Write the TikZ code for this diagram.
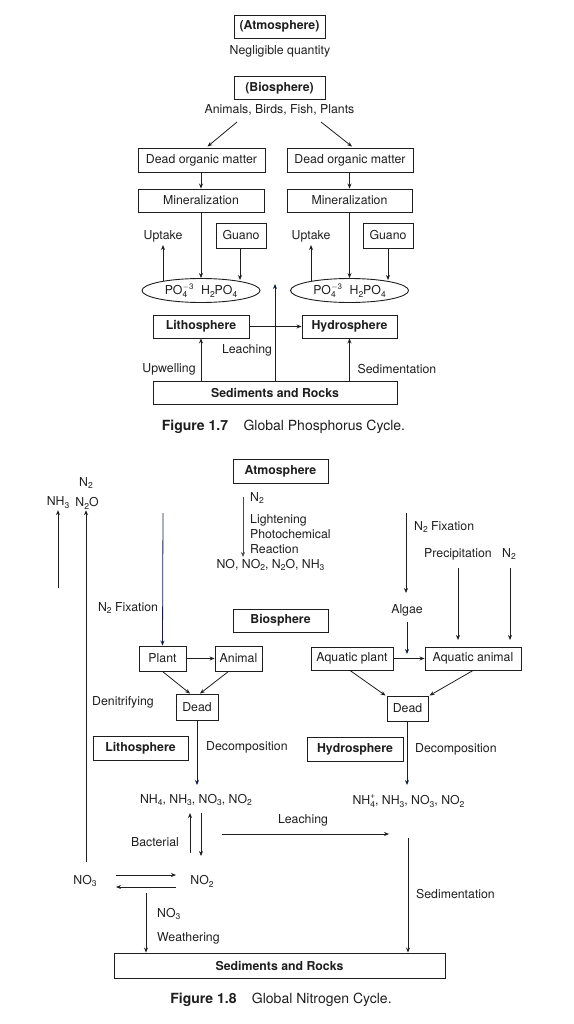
\documentclass[tikz,border=0pt]{standalone}
\usepackage{fontspec}
\setmainfont{TeX Gyre Heros}
\usetikzlibrary{arrows.meta,shapes.geometric,calc}
\newcommand\dnx[1]{\raisebox{-0.45ex}{\fontsize{8.5}{9}\selectfont #1}}
\newcommand\upx[1]{\raisebox{0.85ex}{\fontsize{8}{9}\selectfont #1}}
\newcommand\dnup[2]{\rlap{\dnx{#1}}\upx{#2}}
\definecolor{inkc}{RGB}{30,30,30}
\definecolor{navyc}{RGB}{20,25,80}
\begin{document}
\begin{tikzpicture}[x=1pt,y=-1pt,
  every node/.style={font=\fontsize{12.3}{14}\selectfont, text=inkc, inner sep=1pt},
  box/.style={draw=inkc, line width=0.9pt, inner sep=0pt, minimum height=23},
  bbox/.style={box, font=\fontsize{12.3}{14}\selectfont\bfseries},
  arr/.style={-{Stealth[length=5pt,width=4pt]}, line width=0.8pt, draw=inkc},
  blu/.style={draw=navyc},
  lbl/.style={anchor=west},
  capt/.style={font=\fontsize{14}{16}\selectfont}
]
\path[use as bounding box] (0,0) rectangle (573,1024);

%% ---------------- Phosphorus cycle ----------------
\node[bbox, minimum width=91] (patm) at (279.5,26.5) {(Atmosphere)};
\node (pneg) at (280,51) {Negligible quantity};
\node[bbox, minimum width=91] (pbio) at (279.5,88) {(Biosphere)};
\node (panim) at (279.5,110) {Animals, Birds, Fish, Plants};
\coordinate (pal) at (237,122);
\coordinate (par) at (321,122);

\node[box, minimum width=127, minimum height=24] (pdomL) at (201.5,160) {Dead organic matter};
\node[box, minimum width=126, minimum height=24] (pdomR) at (350,160) {Dead organic matter};
\draw[arr] (pal) -- ($(pdomL.north)+(6,-1)$);
\draw[arr] (par) -- ($(pdomR.north)+(2,-1)$);

\node[box, minimum width=126] (pminL) at (201,200.5) {Mineralization};
\node[box, minimum width=125] (pminR) at (349.5,200.5) {Mineralization};
\draw[arr] (pdomL.south -| pminL) -- (pminL.north);
\draw[arr] (pdomR.south -| pminR) -- (pminR.north);

\node (pupL) at (163,236) {Uptake};
\node (pupR) at (311,236) {Uptake};
\node[box, minimum width=50, minimum height=25] (pgL) at (241,235.5) {Guano};
\node[box, minimum width=50, minimum height=25] (pgR) at (388,235.5) {Guano};

\node[draw=inkc, line width=0.9pt, ellipse, minimum width=118, minimum height=24, inner sep=0pt] (pelL) at (201,290.5) {PO\dnup{4}{$-$3}\,\, H\dnx{2}PO\dnx{4}};
\node[draw=inkc, line width=0.9pt, ellipse, minimum width=118, minimum height=24, inner sep=0pt] (pelR) at (349.5,290.5) {PO\dnup{4}{$-$3}\,\, H\dnx{2}PO\dnx{4}};

\coordinate (puLb) at (163,281);
\coordinate (puRb) at (311,281);
\coordinate (pgLb) at (240,280);
\coordinate (pgRb) at (388,280);
\draw[arr] (puLb) -- ($(pupL.south)+(0,2)$);
\draw[arr] (puRb) -- ($(pupR.south)+(0,2)$);
\draw[arr] (pminL.south) -- (pelL.north);
\draw[arr] (pminR.south) -- (pelR.north);
\draw[arr] (pgL.south -| pgLb) -- (pgLb);
\draw[arr] (pgR.south) -- (pgRb);

\node[bbox, minimum width=96] (plith) at (201,326.5) {Lithosphere};
\node[bbox, minimum width=95] (phyd) at (349.5,326.5) {Hydrosphere};
\draw[arr] (plith.east) -- (phyd.west);

\node[bbox, minimum width=244] (psed) at (275,392.5) {Sediments and Rocks};
\coordinate (pblue) at (275,284);
\draw[arr, blu] (psed.north -| pblue) -- (pblue);
\draw[arr] (psed.north -| plith) -- (plith.south);
\draw[arr] (psed.north -| phyd) -- (phyd.south);
\node (pleach) at (247,350) {Leaching};
\node (pupw) at (169,369) {Upwelling};
\node (psedl) at (397,369) {Sedimentation};
\node[capt] (pcap) at (283.5,427) {\textbf{Figure 1.7}\hspace{1.1em}Global Phosphorus Cycle.};

%% ---------------- Nitrogen cycle ----------------
\node (nn2t) at (86,483) {N\dnx{2}};
\node (nnh3) at (58,503) {NH\dnx{3}};
\node (nn2o) at (87,503) {N\dnx{2}O};
\coordinate (nnh3b) at (58,588);
\coordinate (nn2ob) at (86,862);
\draw[arr] (nnh3b) -- (nnh3.south -| nnh3b);
\draw[arr] (nn2ob) -- (nn2o.south -| nn2ob);

\node[bbox, minimum width=95, minimum height=24] (natm) at (280.5,471) {Atmosphere};
\coordinate (nlt) at (243,497);
\coordinate (nlb) at (243,557);
\draw[arr, line width=0.6pt, draw=inkc!80] (nlt) -- (nlb);
\node[lbl] (nln2) at (249,498) {N\dnx{2}};
\node[lbl] (nl1) at (249,520) {Lightening};
\node[lbl] (nl2) at (249,534) {Photochemical};
\node[lbl] (nl3) at (249,549) {Reaction};
\node (nprod) at (270.5,565) {NO, NO\dnx{2}, N\dnx{2}O, NH\dnx{3}};

\node[bbox, minimum width=95] (nbio) at (280.5,620.5) {Biosphere};

\node[box, minimum width=47, minimum height=25] (nplant) at (162.5,658.5) {Plant};
\node[box, minimum width=47, minimum height=25] (nanim) at (238.5,658.5) {Animal};
\draw[arr] (nplant.east) -- (nanim.west);
\coordinate (nfixt) at (163,513);
\draw[arr, blu] (nfixt) -- (nplant.north);
\node (nfixl) at (128,608) {N\dnx{2} Fixation};

\node[box, minimum width=42, minimum height=26] (ndeadL) at (197,707) {Dead};
\draw[arr] (nplant.south) -- ($(ndeadL.north)+(-7,0)$);
\draw[arr] ($(nanim.south)+(-10,0)$) -- ($(ndeadL.north)+(3,0)$);
\node (ndenit) at (123,702) {Denitrifying};
\node[bbox, minimum width=95, minimum height=24] (nlith) at (140.5,748) {Lithosphere};
\node (nprodL) at (196,800) {NH\dnx{4}, NH\dnx{3}, NO\dnx{3}, NO\dnx{2}};
\coordinate (ndecL) at (197,785);
\draw[arr, blu] (ndeadL.south) -- (ndecL);
\node[lbl] (ndecLl) at (205,747) {Decomposition};

% right branch
\coordinate (nfrt) at (406,513);
\coordinate (nfrb) at (406,593);
\draw[arr] (nfrt) -- (nfrb);
\node[lbl] (nfrl) at (413,527) {N\dnx{2} Fixation};
\node (nprec) at (458,554) {Precipitation};
\node (nn2r) at (509,554) {N\dnx{2}};
\coordinate (nprecb) at (458,640);
\coordinate (nn2rb) at (510,640);
\draw[arr] (nprec.south |- 0,568) -- (nprecb);
\draw[arr] (nn2rb |- 0,568) -- (nn2rb);
\node (nalgae) at (407,610) {Algae};
\coordinate (nalgb) at (407,654);
\draw[arr, blu] ($(nalgae.south)+(0,5)$) -- (nalgb);

\node[box, minimum width=82] (naqp) at (352,658.5) {Aquatic plant};
\node[box, minimum width=96] (naqa) at (473,658.5) {Aquatic animal};
\draw[arr] (naqp.east) -- (naqa.west);

\node[box, minimum width=41, minimum height=25] (ndeadR) at (407.5,708.5) {Dead};
\draw[arr] ($(naqp.south)+(-2,0)$) -- ($(ndeadR.north)+(-22,0)$);
\draw[arr] (naqa.south) -- ($(ndeadR.north)+(22,0)$);
\node[bbox, minimum width=96, minimum height=24] (nhyd) at (355,749) {Hydrosphere};
\coordinate (ndecR) at (407,785);
\draw[arr, blu] (ndeadR.south -| ndecR) -- (ndecR);
\node[lbl] (ndecRl) at (414,749) {Decomposition};
\node (nprodR) at (408.5,801) {NH\rlap{\upx{+}}\dnx{4}, NH\dnx{3}, NO\dnx{3}, NO\dnx{2}};

% leaching and sedimentation
\node (nleach) at (303,820) {Leaching};
\coordinate (nlea) at (222,834);
\coordinate (nleb) at (389,834);
\draw[arr] (nlea) -- (nleb);
\node[bbox, minimum width=331, minimum height=25] (nsed) at (279.5,965.5) {Sediments and Rocks};
\coordinate (nsedt) at (408,838);
\draw[arr] (nsedt) -- (nsed.north -| nsedt);
\node[lbl] (nsedl) at (415,894) {Sedimentation};

% bacterial
\node (nbact) at (155,842) {Bacterial};
\coordinate (nbu1) at (190,853);
\coordinate (nbu2) at (190,813);
\coordinate (nbd1) at (201,813);
\coordinate (nbd2) at (201,856);
\draw[arr] (nbu1) -- (nbu2);
\draw[arr] (nbd1) -- (nbd2);

\node (nno3) at (85,881) {NO\dnx{3}};
\node (nno2) at (202,881) {NO\dnx{2}};
\coordinate (nra) at (116,875);
\coordinate (nrb) at (176,875);
\coordinate (nrc) at (176,887);
\coordinate (nrd) at (116,887);
\draw[arr] (nra) -- (nrb);
\draw[arr] (nrc) -- (nrd);

\coordinate (nwt) at (146,893);
\draw[arr] (nwt) -- (nsed.north -| nwt);
\node[lbl] (nwno3) at (156,914) {NO\dnx{3}};
\node[lbl] (nweath) at (156,938) {Weathering};

\node[capt] (ncap) at (281,1000) {\textbf{Figure 1.8}\hspace{1.1em}Global Nitrogen Cycle.};
\end{tikzpicture}
\end{document}
